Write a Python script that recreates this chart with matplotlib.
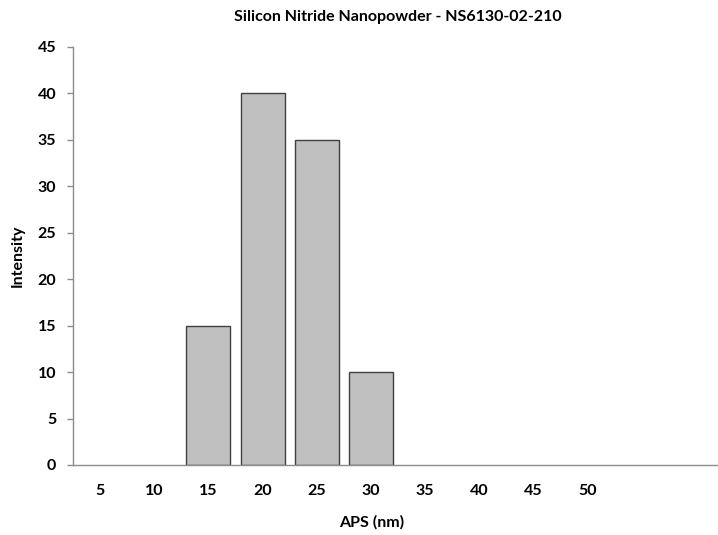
import matplotlib.pyplot as plt

plt.rcParams['font.family'] = ['Lato', 'DejaVu Sans']

# particle size categories (nm) and intensity values
sizes = ['5', '10', '15', '20', '25', '30', '35', '40', '45', '50', '', '']
intensity = [0, 0, 15, 40, 35, 10, 0, 0, 0, 0, 0, 0]

fig = plt.figure(figsize=(7.18, 5.35), dpi=100)
ax = fig.add_axes([73/718, 1-465/535, 650/718, (465-47)/535])

x = list(range(len(sizes)))
# empty categories get no bar (Excel draws nothing for zero)
bx = [i for i in x if intensity[i] > 0]
bh = [intensity[i] for i in bx]
ax.bar(bx, bh, width=0.815, color='#c0c0c0', edgecolor='#404040', linewidth=1.0, zorder=2)

ax.set_xlim(-0.5, len(sizes)-0.5)
ax.set_ylim(0, 45)
ax.set_yticks(range(0, 46, 5))
ax.set_xticks(x)
ax.set_xticklabels(sizes)

for s in ['top', 'right']:
    ax.spines[s].set_visible(False)
for s in ['left', 'bottom']:
    ax.spines[s].set_color('#8c8c8c')
    ax.spines[s].set_linewidth(1.0)

fs = 11.5
ax.tick_params(axis='x', length=0, pad=14, labelsize=fs)
ax.tick_params(axis='y', length=4, width=1, color='#8c8c8c', pad=8, labelsize=fs)
for t in ax.get_xticklabels() + ax.get_yticklabels():
    t.set_fontweight('bold')

fig.text(398/718, 1-17/535, 'Silicon Nitride Nanopowder - NS6130-02-210',
         ha='center', va='center', fontsize=fs, fontweight='bold')
fig.text(18/718, 1-256/535, 'Intensity', rotation=90,
         ha='center', va='center', fontsize=fs, fontweight='bold')
fig.text(372/718, 1-522/535, 'APS (nm)',
         ha='center', va='center', fontsize=fs, fontweight='bold')

fig.savefig('out.png', dpi=100)
